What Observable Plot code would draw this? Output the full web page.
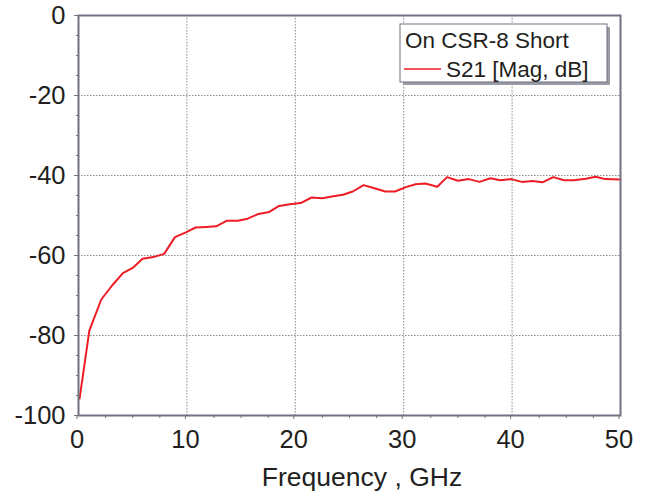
<!DOCTYPE html>
<html>
<head>
<meta charset="utf-8">
<script src="https://cdn.jsdelivr.net/npm/d3@7"></script>
<script src="https://cdn.jsdelivr.net/npm/@observablehq/plot@0.6"></script>
<style>
  html, body { margin: 0; padding: 0; background: #fff; }
  #chart { width: 645px; height: 498px; }
  svg { font-family: "Liberation Sans", Arial, sans-serif; }
</style>
</head>
<body>
<div id="chart"></div>
<script>
const freqGHz = [0.1,1.0,2.1,3.1,4.1,5.0,5.9,6.9,7.9,8.9,9.9,10.8,11.8,12.7,13.7,14.7,15.6,16.6,17.6,18.5,19.5,20.5,21.5,22.5,23.5,24.4,25.3,26.3,27.3,28.3,29.2,30.2,31.1,32.0,33.1,34.0,35.0,36.0,37.0,38.0,38.9,39.9,40.9,41.9,42.8,43.8,44.8,45.7,46.8,47.7,48.6,50.0];
const s21dB = [-95.8,-78.8,-71.0,-67.5,-64.4,-63.1,-60.8,-60.4,-59.6,-55.4,-54.2,-53.0,-52.85,-52.7,-51.3,-51.3,-50.8,-49.6,-49.1,-47.6,-47.2,-46.9,-45.5,-45.7,-45.2,-44.8,-44.0,-42.4,-43.2,-44.0,-44.0,-42.9,-42.2,-42.0,-42.8,-40.4,-41.3,-40.9,-41.6,-40.7,-41.2,-40.9,-41.6,-41.4,-41.7,-40.4,-41.2,-41.2,-40.8,-40.3,-40.9,-41.0];
const xTicks = [0, 10, 20, 30, 40, 50];
const yTicks = [0, -20, -40, -60, -80, -100];
const xMinor = [2.5, 5, 7.5, 12.5, 15, 17.5, 22.5, 25, 27.5, 32.5, 35, 37.5, 42.5, 45, 47.5];
const yMinor = [-5, -10, -15, -25, -30, -35, -45, -50, -55, -65, -70, -75, -85, -90, -95];
const xGrid = [10, 20, 30, 40];
const yGrid = [-20, -40, -60, -80];
const legendTitle = "On CSR-8 Short";
const seriesName = "S21 [Mag, dB]";
const xLabel = "Frequency , GHz";

const data = freqGHz.map((f, i) => ({f, v: s21dB[i]}));
const textColor = "#231f20";
const frameColor = "#707381";
const fmt = d => String(d);

const chart = Plot.plot({
  width: 645,
  height: 498,
  marginLeft: 78,
  marginRight: 25,
  marginTop: 15,
  marginBottom: 83,
  style: {fontFamily: "'Liberation Sans', Arial, sans-serif", color: textColor, background: "#fff"},
  x: {domain: [0, 50]},
  y: {domain: [-100, 0]},
  marks: [
    Plot.gridX(xGrid, {stroke: "#8a8a8a", strokeOpacity: 1, strokeDasharray: "1.5,1.5", strokeWidth: 1}),
    Plot.gridY(yGrid, {stroke: "#8a8a8a", strokeOpacity: 1, strokeDasharray: "1.5,1.5", strokeWidth: 1}),
    Plot.axisX(xMinor, {tickSize: 3, text: null, label: null, stroke: frameColor}),
    Plot.axisY(yMinor, {tickSize: 2, text: null, label: null, stroke: frameColor}),
    Plot.axisX(xTicks, {tickSize: 4, tickPadding: 10, fontSize: 25.5, tickFormat: fmt, label: null, stroke: frameColor, fill: textColor, dx: -1.5}),
    Plot.axisY(yTicks, {tickSize: 4, tickPadding: 9, fontSize: 25.5, tickFormat: fmt, label: null, stroke: frameColor, fill: textColor}),
    Plot.line(data, {x: "f", y: "v", stroke: "#ee1c25", strokeWidth: 2}),
    Plot.frame({stroke: frameColor, strokeWidth: 2})
  ]
});

const svg = d3.select(chart);
svg.append("text")
  .attr("x", 362).attr("y", 486)
  .attr("text-anchor", "middle")
  .attr("font-size", 26.5).attr("fill", textColor)
  .text(xLabel);

const lg = svg.append("g")
  .attr("font-family", "'Liberation Sans', Arial, sans-serif")
  .attr("text-anchor", "start");
lg.append("rect").attr("x", 403).attr("y", 27).attr("width", 207).attr("height", 58).attr("fill", "#9a9ca6");
lg.append("rect").attr("x", 400).attr("y", 24).attr("width", 207).attr("height", 58).attr("fill", "#fff").attr("stroke", "#6e7180").attr("stroke-width", 1);
lg.append("text").attr("x", 405).attr("y", 48).attr("font-size", 22.5).attr("fill", textColor).text(legendTitle);
lg.append("line").attr("x1", 404).attr("x2", 441).attr("y1", 69).attr("y2", 69).attr("stroke", "#ee1c25").attr("stroke-width", 1.5);
lg.append("text").attr("x", 446).attr("y", 77).attr("font-size", 22.5).attr("fill", textColor).text(seriesName);

document.getElementById("chart").appendChild(chart);
</script>
</body>
</html>
